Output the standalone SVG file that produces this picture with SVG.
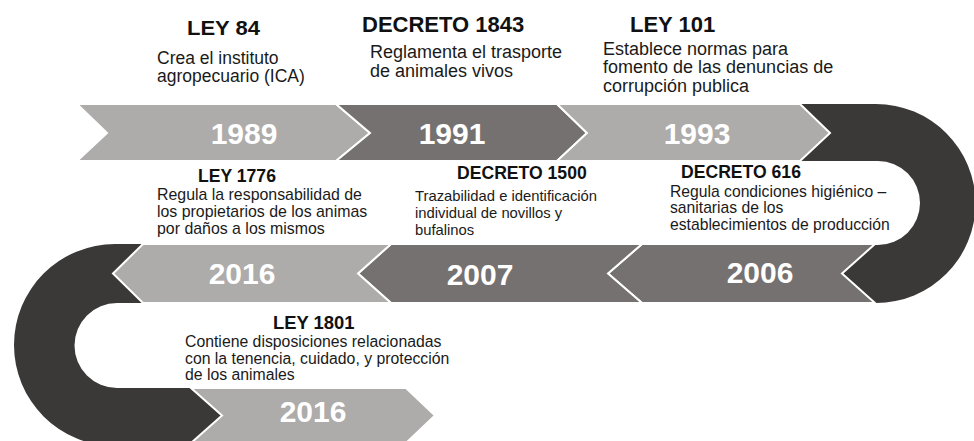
<svg xmlns="http://www.w3.org/2000/svg" width="974" height="441" viewBox="0 0 974 441">
<style>
.light{fill:#aeabab;stroke:#ffffff;stroke-width:2;stroke-linejoin:miter}
.dark{fill:#757171;stroke:#ffffff;stroke-width:2;stroke-linejoin:miter}
.ring{fill:#3b3838}
.yr{font-family:"Liberation Sans",Arial,sans-serif;font-weight:bold;font-size:30px;fill:#ffffff;text-anchor:middle}
.h{font-family:"Liberation Sans",Arial,sans-serif;font-weight:bold;fill:#111111}
.t{font-family:"Liberation Sans",Arial,sans-serif;fill:#1a1a1a}
</style>
<rect width="974" height="441" fill="#ffffff"/>
<g id="connectors">
<path class="ring" d="M 790 104 H 876 A 99.5 99.5 0 0 1 876 303 H 840 V 245 H 878 A 42 42 0 0 0 878 161 H 790 Z"/>
<path class="ring" d="M 150 244 H 115 A 101 101 0 0 0 115 446 H 230 V 388 H 117 A 42.5 42.5 0 0 1 117 303 H 150 Z"/>
</g>
<g id="n1989">
<polygon class="light" points="77,104 336,104 370,133 336,161 77,161 107,133"/>
<text class="yr" x="244" y="144">1989</text>
<text class="h" x="187" y="35" font-size="20" textLength="73" lengthAdjust="spacingAndGlyphs">LEY 84</text>
<text class="t" font-size="17.5"><tspan x="157" y="63.5">Crea el instituto</tspan><tspan x="157" y="82">agropecuario (ICA)</tspan></text>
</g>
<g id="n1991">
<polygon class="dark" points="336,104 557,104 587,133 557,161 336,161 370,133"/>
<text class="yr" x="452" y="144">1991</text>
<text class="h" x="362" y="32" font-size="22">DECRETO 1843</text>
<text class="t" font-size="18"><tspan x="370" y="58">Reglamenta el trasporte</tspan><tspan x="370" y="76.5">de animales vivos</tspan></text>
</g>
<g id="n1993">
<polygon class="light" points="557,104 800,104 830,133 800,161 557,161 587,133"/>
<text class="yr" x="697" y="144">1993</text>
<text class="h" x="630" y="32" font-size="22">LEY 101</text>
<text class="t" font-size="18"><tspan x="603" y="54.5">Establece normas para</tspan><tspan x="603" y="73">fomento de las denuncias de</tspan><tspan x="603" y="91.5">corrupción publica</tspan></text>
</g>
<g id="n2006">
<polygon class="dark" points="642,244 875,244 842,273.5 875,303 642,303 608,273.5"/>
<text class="yr" x="760" y="283">2006</text>
<text class="h" x="681" y="178" font-size="17.6">DECRETO 616</text>
<text class="t" font-size="15.7"><tspan x="670" y="196.5">Regula condiciones higiénico –</tspan><tspan x="670" y="213">sanitarias de los</tspan><tspan x="670" y="230">establecimientos de producción</tspan></text>
</g>
<g id="n2007">
<polygon class="dark" points="391,244 642,244 608,273.5 642,303 391,303 358,273.5"/>
<text class="yr" x="480" y="285">2007</text>
<text class="h" x="457" y="179" font-size="17.6">DECRETO 1500</text>
<text class="t" font-size="14.8"><tspan x="415" y="201">Trazabilidad e identificación</tspan><tspan x="415" y="218">individual de novillos y</tspan><tspan x="415" y="235">bufalinos</tspan></text>
</g>
<g id="n2016a">
<polygon class="light" points="143,244 391,244 358,273.5 391,303 143,303 113,273.5"/>
<text class="yr" x="242" y="284">2016</text>
<text class="h" x="198" y="181.5" font-size="17.6">LEY 1776</text>
<text class="t" font-size="15.9"><tspan x="157" y="200">Regula la responsabilidad de</tspan><tspan x="157" y="217">los propietarios de los animas</tspan><tspan x="157" y="233.5">por daños a los mismos</tspan></text>
</g>
<g id="n2016b">
<polygon class="light" points="191,388 406,388 435,415.5 406,443 191,443 222,415.5"/>
<text class="yr" x="313" y="422">2016</text>
<text class="h" x="273" y="328.5" font-size="18.4">LEY 1801</text>
<text class="t" font-size="15.8"><tspan x="185" y="347">Contiene disposiciones relacionadas</tspan><tspan x="185" y="363.5">con la tenencia, cuidado, y protección</tspan><tspan x="185" y="380">de los animales</tspan></text>
</g>
</svg>
